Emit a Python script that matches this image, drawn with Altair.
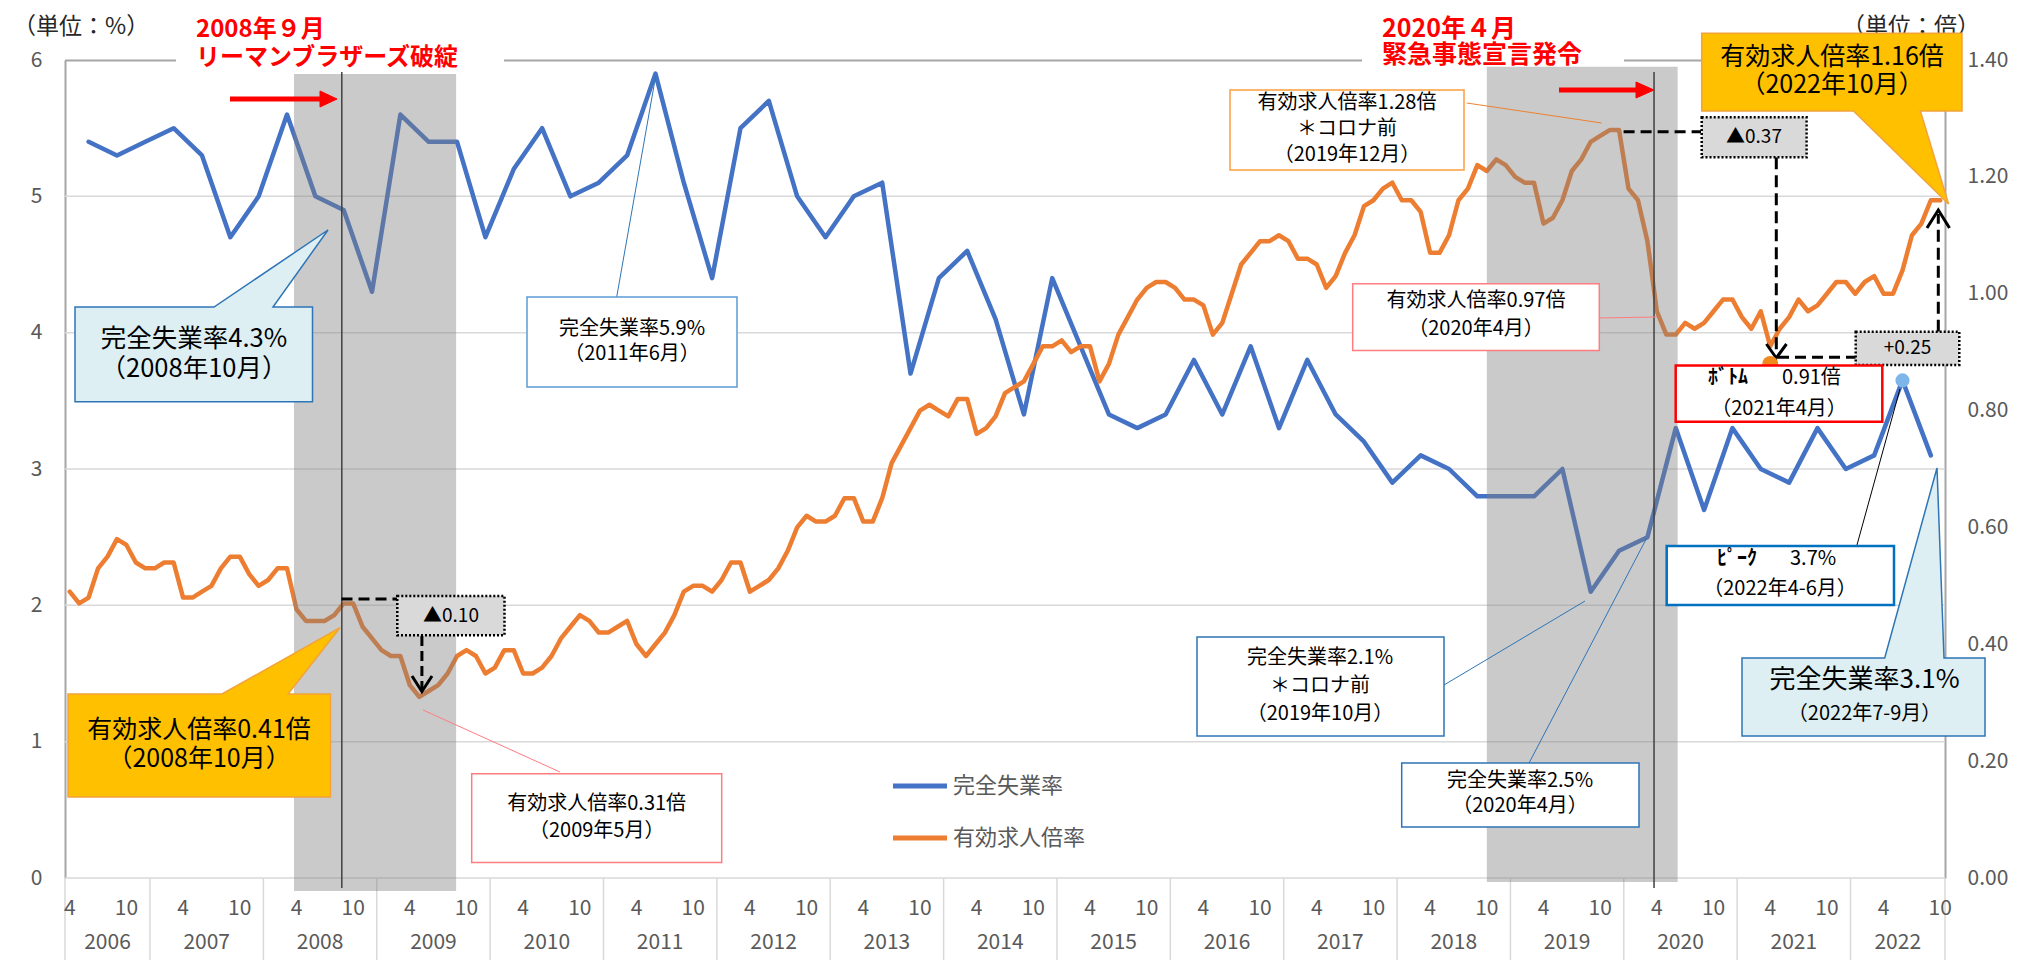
import altair as alt
import pandas as pd

FONT = "Noto Sans CJK JP"

# ---------------- data ----------------
N_MONTHS = 199  # 2006/4 .. 2022/10
month_labels = [f"{2006 + (3 + k) // 12}/{(3 + k) % 12 + 1}" for k in range(N_MONTHS)]

# 有効求人倍率 (monthly, 倍)
offers = [
    0.49, 0.47, 0.48, 0.53, 0.55, 0.58, 0.57, 0.54, 0.53, 0.53,
    0.54, 0.54, 0.48, 0.48, 0.49, 0.50, 0.53, 0.55, 0.55, 0.52,
    0.50, 0.51, 0.53, 0.53, 0.46, 0.44, 0.44, 0.44, 0.45, 0.47,
    0.47, 0.43, 0.41, 0.39, 0.38, 0.38, 0.33, 0.31, 0.32, 0.33,
    0.35, 0.38, 0.39, 0.38, 0.35, 0.36, 0.39, 0.39, 0.35, 0.35,
    0.36, 0.38, 0.41, 0.43, 0.45, 0.44, 0.42, 0.42, 0.43, 0.44,
    0.40, 0.38, 0.40, 0.42, 0.45, 0.49, 0.50, 0.50, 0.49, 0.51,
    0.54, 0.54, 0.49, 0.50, 0.51, 0.53, 0.56, 0.60, 0.62, 0.61,
    0.61, 0.62, 0.65, 0.65, 0.61, 0.61, 0.65, 0.71, 0.74, 0.77,
    0.80, 0.81, 0.80, 0.79, 0.82, 0.82, 0.76, 0.77, 0.79, 0.83,
    0.84, 0.85, 0.88, 0.91, 0.91, 0.92, 0.90, 0.91, 0.91, 0.85,
    0.88, 0.93, 0.96, 0.99, 1.01, 1.02, 1.02, 1.01, 0.99, 0.99,
    0.98, 0.93, 0.95, 1.00, 1.05, 1.07, 1.09, 1.09, 1.10, 1.09,
    1.06, 1.06, 1.05, 1.01, 1.03, 1.07, 1.10, 1.15, 1.16, 1.18,
    1.19, 1.16, 1.16, 1.14, 1.07, 1.07, 1.10, 1.16, 1.18, 1.22,
    1.21, 1.23, 1.22, 1.20, 1.19, 1.19, 1.12, 1.13, 1.16, 1.21,
    1.23, 1.26, 1.27, 1.28, 1.28, 1.18, 1.16, 1.09, 0.97, 0.93,
    0.93, 0.95, 0.94, 0.95, 0.97, 0.99, 0.99, 0.96, 0.94, 0.97,
    0.91, 0.94, 0.96, 0.99, 0.97, 0.98, 1.00, 1.02, 1.02, 1.00,
    1.02, 1.03, 1.00, 1.00, 1.04, 1.10, 1.12, 1.16, 1.16,
]

# 完全失業率 (quarterly, %, plotted at quarter-end month)
unemp_month_idx = list(range(2, 198, 3))
unemp = [
    5.4, 5.3, 5.4, 5.5, 5.3, 4.7, 5.0, 5.6, 5.0, 4.9,
    4.3, 5.6, 5.4, 5.4, 4.7, 5.2, 5.5, 5.0, 5.1, 5.3,
    5.9, 5.1, 4.4, 5.5, 5.7, 5.0, 4.7, 5.0, 5.1, 3.7,
    4.4, 4.6, 4.1, 3.4, 4.4, 3.9, 3.4, 3.3, 3.4, 3.8,
    3.4, 3.9, 3.3, 3.8, 3.4, 3.2, 2.9, 3.1, 3.0, 2.8,
    2.8, 2.8, 3.0, 2.1, 2.4, 2.5, 3.3, 2.7, 3.3, 3.0,
    2.9, 3.3, 3.0, 3.1, 3.65, 3.1,
]

years = list(range(2006, 2023))
tick_months = [4, 10]
left_ticks = [0, 1, 2, 3, 4, 5, 6]
right_ticks = [0.0, 0.2, 0.4, 0.6, 0.8, 1.0, 1.2, 1.4]
grid_values = [0, 1, 2, 3, 4, 5]

event_pos = [28.8, 167.7]          # 2008/9, 2020/4 (month index)
shade_start = [23.74, 150.0]
shade_end = [40.9, 170.2]
bottom_marker = {"i": 180, "v": 0.88}
peak_marker = {"i": 194, "v": 3.65}


def idx(y, m):
    return (y - 2006) * 12 + (m - 4)


df_offers = pd.DataFrame({"i": list(range(N_MONTHS)), "month": month_labels, "v": offers})
df_unemp = pd.DataFrame({"i": unemp_month_idx, "month": [month_labels[i] for i in unemp_month_idx], "v": unemp})
df_ticks = pd.DataFrame([{"i": idx(y, m), "lab": str(m)} for y in years for m in tick_months
                         if 0 <= idx(y, m) < N_MONTHS])
df_years = pd.DataFrame([{"i": (max(0, idx(y, 1)) + min(N_MONTHS - 1, idx(y, 12))) / 2, "lab": str(y)}
                         for y in years])
df_sep = pd.DataFrame({"i": [-0.5] + [idx(y, 1) - 0.5 for y in years[1:]] + [N_MONTHS - 0.5]})
df_grid = pd.DataFrame({"v": grid_values})
one = pd.DataFrame({"k": [0]})

# ---------------- layout helpers ----------------
PX0, PY0 = 65, 60
W, H = 1880, 818


def X(px):
    return px - PX0


def Y(py):
    return py - PY0


xsc = alt.Scale(domain=[-0.5, N_MONTHS - 0.5], nice=False, zero=False)
layers = []


def text(s, px, py, size, color="#000000", align="center", weight="normal", lh=None):
    kw = dict(text=s, align=align, baseline="middle", font=FONT, fontSize=size,
              color=color, fontWeight=weight)
    if lh:
        kw["lineHeight"] = lh
    layers.append(alt.Chart(one).mark_text(**kw).encode(x=alt.value(X(px)), y=alt.value(Y(py))))


def rect(x0, y0, x1, y1, fill, stroke="transparent", sw=1.5, dash=None, opacity=1.0):
    kw = dict(fill=fill, stroke=stroke, strokeWidth=sw, opacity=opacity)
    if dash:
        kw["strokeDash"] = dash
    layers.append(alt.Chart(one).mark_rect(**kw).encode(
        x=alt.value(X(x0)), x2=alt.value(X(x1)), y=alt.value(Y(y0)), y2=alt.value(Y(y1))))


def seg(x0, y0, x1, y1, color, sw, dash=None):
    kw = dict(color=color, strokeWidth=sw)
    if dash:
        kw["strokeDash"] = dash
    layers.append(alt.Chart(one).mark_rule(**kw).encode(
        x=alt.value(X(x0)), y=alt.value(Y(y0)), x2=alt.value(X(x1)), y2=alt.value(Y(y1))))


def path(pts, close=True):
    s = "M" + " L".join(f"{X(a):.1f},{Y(b):.1f}" for a, b in pts)
    return s + (" Z" if close else "")


def shape(pts, fill=None, stroke="#000000", sw=1.5, close=True):
    kw = dict(shape=path(pts, close), size=4, opacity=1, stroke=stroke, strokeWidth=sw,
              strokeJoin="miter")
    if fill:
        kw.update(filled=True, fill=fill)
    else:
        kw.update(filled=False)
    layers.append(alt.Chart(one).mark_point(**kw).encode(x=alt.value(0), y=alt.value(0)))


# ---------------- base: grid, frame, x axis ----------------
layers.append(alt.Chart(df_grid).mark_rule(color="#D9D9D9", strokeWidth=1.5).encode(
    y=alt.Y("v:Q", scale=alt.Scale(domain=[0, 6], nice=False), axis=None),
    x=alt.value(0), x2=alt.value(W)))
for a, b in [(65, 176), (504, 1362), (1624, 1702)]:
    seg(a, 60.5, b, 60.5, "#A6A6A6", 2)

layers.append(alt.Chart(df_sep).mark_rule(color="#D9D9D9", strokeWidth=1.5).encode(
    x=alt.X("i:Q", scale=xsc, axis=None), y=alt.value(Y(878)), y2=alt.value(Y(970))))
layers.append(alt.Chart(df_ticks).mark_text(font=FONT, fontSize=21, color="#595959", baseline="middle").encode(
    x=alt.X("i:Q", scale=xsc, axis=None), text="lab:N", y=alt.value(Y(909))))
layers.append(alt.Chart(df_years).mark_text(font=FONT, fontSize=21, color="#595959", baseline="middle").encode(
    x=alt.X("i:Q", scale=xsc, axis=None), text="lab:N", y=alt.value(Y(943))))

# legend
seg(893, 786, 947, 786, "#4472C4", 5)
seg(893, 838, 947, 838, "#ED7D31", 5)
text("完全失業率", 953, 786, 22, "#595959", "left")
text("有効求人倍率", 953, 838, 22, "#595959", "left")

# ---------------- series ----------------
layers.append(alt.Chart(df_unemp).mark_line(color="#4472C4", strokeWidth=4.5, strokeJoin="round", strokeCap="round").encode(
    x=alt.X("i:Q", scale=xsc, axis=None),
    y=alt.Y("v:Q", scale=alt.Scale(domain=[0, 6], nice=False),
            axis=alt.Axis(orient="left", values=left_ticks, format="d", grid=False, ticks=False,
                          domain=True, domainColor="#A6A6A6", domainWidth=2, labelPadding=23,
                          labelFontSize=21, labelColor="#595959", labelFont=FONT, title=None))))
layers.append(alt.Chart(df_offers).mark_line(color="#ED7D31", strokeWidth=4.5, strokeJoin="round", strokeCap="round").encode(
    x=alt.X("i:Q", scale=xsc, axis=None),
    y=alt.Y("v:Q", scale=alt.Scale(domain=[0, 1.4], nice=False),
            axis=alt.Axis(orient="right", values=right_ticks, format=".2f", grid=False, ticks=False,
                          domain=True, domainColor="#A6A6A6", domainWidth=2, labelPadding=22,
                          labelFontSize=21, labelColor="#595959", labelFont=FONT, title=None))))

# shaded periods and event lines
shade_tops = [74, 66.7]
shade_bottoms = [891, 882]
for s, e, t, b in zip(shade_start, shade_end, shade_tops, shade_bottoms):
    layers.append(alt.Chart(pd.DataFrame({"s": [s], "e": [e]})).mark_rect(fill="#808080", opacity=0.42).encode(
        x=alt.X("s:Q", scale=xsc, axis=None), x2="e:Q", y=alt.value(Y(t)), y2=alt.value(Y(b))))
layers.append(alt.Chart(pd.DataFrame({"p": event_pos})).mark_rule(color="#404040", strokeWidth=1.5).encode(
    x=alt.X("p:Q", scale=xsc, axis=None), y=alt.value(Y(72)), y2=alt.value(Y(888))))

# red arrows
seg(230, 99, 322, 99, "#FF0000", 5)
shape([(320, 91), (337, 99), (320, 107)], fill="#FF0000", stroke="#FF0000", sw=1)
seg(1559, 90, 1638, 90, "#FF0000", 5)
shape([(1636, 82), (1654, 90), (1636, 98)], fill="#FF0000", stroke="#FF0000", sw=1)

# titles
text("（単位：%）", 13, 27, 23, "#262626", "left")
text("（単位：倍）", 1842, 27, 23, "#262626", "left")
text(["2008年９月", "リーマンブラザーズ破綻"], 196, 30, 24, "#FF0000", "left", "bold", lh=28)
text(["2020年４月", "緊急事態宣言発令"], 1382, 29, 25, "#FF0000", "left", "bold", lh=26)

# ---------------- callouts ----------------
CYAN = "#DDEFF2"
BLUE_B = "#2E75B6"
GOLD = "#FFC000"
GOLD_B = "#F2A33A"
PINK = "#FF7C80"

# A: 完全失業率4.3%
shape([(75, 307), (214, 307), (328, 230), (273, 307), (312.5, 307), (312.5, 401.7), (75, 401.7)],
      fill=CYAN, stroke=BLUE_B, sw=1.5)
text(["完全失業率4.3%", "（2008年10月）"], 194, 339, 25.5, lh=30)

# B: 完全失業率5.9%
seg(616.7, 297, 655.7, 76, BLUE_B, 1)
rect(527, 297, 737, 387, "#FFFFFF", "#5B9BD5", 1.5)
text(["完全失業率5.9%", "（2011年6月）"], 632, 329, 20, lh=25)

# C: 有効求人倍率0.41倍
shape([(68, 694), (222, 694), (340, 627.7), (288, 694), (330.5, 694), (330.5, 797), (68, 797)],
      fill=GOLD, stroke=GOLD_B, sw=1.5)
text(["有効求人倍率0.41倍", "（2008年10月）"], 199, 730, 25, lh=29)

# D: 有効求人倍率0.31倍
seg(423, 710, 560, 772, PINK, 1)
rect(471.7, 773.7, 721.7, 862.5, "#FFFFFF", PINK, 1.5)
text(["有効求人倍率0.31倍", "（2009年5月）"], 596.7, 804, 20, lh=27)

# E: ▲0.10
seg(341.5, 599, 397, 599, "#000000", 3, [11, 6])
seg(421.9, 636, 421.9, 689, "#000000", 3, [10, 5])
shape([(412, 676), (421.9, 691.5), (432, 676)], stroke="#000000", sw=3, close=False)
rect(397.3, 596, 504.5, 635.3, "#D9D9D9", "#000000", 2.5, [2, 2])
text("▲0.10", 451, 616, 19)

# F: 有効求人倍率1.28倍
seg(1466.7, 103, 1601.7, 123, "#F08030", 1)
rect(1230, 90, 1464, 170, "#FFFFFF", "#FF9E3D", 1.5)
text(["有効求人倍率1.28倍", "＊コロナ前", "（2019年12月）"], 1347, 103, 20, lh=26)

# G: 有効求人倍率0.97倍
seg(1596.7, 318, 1656.7, 317, PINK, 1)
rect(1352.7, 283.8, 1599.3, 350.6, "#FFFFFF", PINK, 1.5)
text(["有効求人倍率0.97倍", "（2020年4月）"], 1476, 301, 20, lh=28)

# H: 完全失業率2.1%
seg(1444, 685, 1585, 601, BLUE_B, 1)
rect(1197, 637, 1444, 736, "#FFFFFF", BLUE_B, 1.5)
text(["完全失業率2.1%", "＊コロナ前", "（2019年10月）"], 1320, 658, 20, lh=28)

# I: 完全失業率2.5%
seg(1528, 765, 1646.7, 538, BLUE_B, 1)
rect(1401.7, 763, 1639, 827, "#FFFFFF", BLUE_B, 1.5)
text(["完全失業率2.5%", "（2020年4月）"], 1520, 781, 20, lh=25)

# K/L: dashed arrows
seg(1623.6, 131.7, 1701, 131.7, "#000000", 3, [11, 6])
seg(1776.3, 157.3, 1776.3, 354, "#000000", 3, [12, 6])
shape([(1766.4, 344), (1776.3, 358), (1786.5, 344)], stroke="#000000", sw=3, close=False)
seg(1778, 357.3, 1855.7, 357.3, "#000000", 3, [11, 6])
seg(1938.3, 331.7, 1938.3, 214, "#000000", 3, [12, 6])
shape([(1927, 228), (1938.3, 210), (1949.5, 228)], stroke="#000000", sw=3, close=False)

# markers
layers.append(alt.Chart(pd.DataFrame([bottom_marker])).mark_circle(color="#EE8A1E", size=250, opacity=1).encode(
    x=alt.X("i:Q", scale=xsc, axis=None),
    y=alt.Y("v:Q", scale=alt.Scale(domain=[0, 1.4], nice=False), axis=None)))
layers.append(alt.Chart(pd.DataFrame([peak_marker])).mark_circle(color="#7EB6EA", size=200, opacity=1).encode(
    x=alt.X("i:Q", scale=xsc, axis=None),
    y=alt.Y("v:Q", scale=alt.Scale(domain=[0, 6], nice=False), axis=None)))

rect(1701.7, 117.3, 1806.6, 157.3, "#D9D9D9", "#000000", 2.5, [2, 2])
text("▲0.37", 1754, 137, 19)
rect(1855.7, 331.7, 1959.3, 365, "#D9D9D9", "#000000", 2.5, [2, 2])
text("+0.25", 1907.5, 348, 19)

# J: 有効求人倍率1.16倍
shape([(1701.7, 33.3), (1962, 33.3), (1962, 111), (1920.4, 111), (1948.6, 204), (1853.5, 111), (1701.7, 111)],
      fill=GOLD, stroke=GOLD_B, sw=1.5)
text(["有効求人倍率1.16倍", "（2022年10月）"], 1832, 57, 25, lh=28)

# N: ボトム
rect(1675.7, 365.4, 1882.3, 421.7, "#FFFFFF", "#FF0000", 2.5)
text("ﾎﾞﾄﾑ", 1708, 378, 20, align="left", weight="bold")
text("0.91倍", 1782, 378, 20, align="left")
text("（2021年4月）", 1779, 408.5, 20)

# P: ピーク
seg(1856.7, 546, 1900, 389, "#000000", 1)
rect(1666.7, 546, 1894, 605, "#FFFFFF", "#0070C0", 2.5)
text("ﾋﾟｰｸ", 1717, 559, 20, align="left", weight="bold")
text("3.7%", 1790, 559, 20, align="left")
text("（2022年4-6月）", 1780, 588.5, 20)

# Q: 完全失業率3.1%
shape([(1742, 658), (1884.7, 658), (1937, 468), (1944, 658), (1985, 658), (1985, 736), (1742, 736)],
      fill=CYAN, stroke=BLUE_B, sw=1.5)
text("完全失業率3.1%", 1864.6, 680, 26)
text("（2022年7-9月）", 1864.6, 714, 20)

chart = alt.layer(*layers).resolve_scale(y="independent").properties(
    width=W, height=H,
    padding={"left": 57, "top": 52, "right": 67, "bottom": 82},
    autosize=alt.AutoSizeParams(type="none"),
    background="#FFFFFF",
).configure_view(stroke="transparent")

chart.save("out.html", embed_options={"renderer": "svg", "actions": False})
